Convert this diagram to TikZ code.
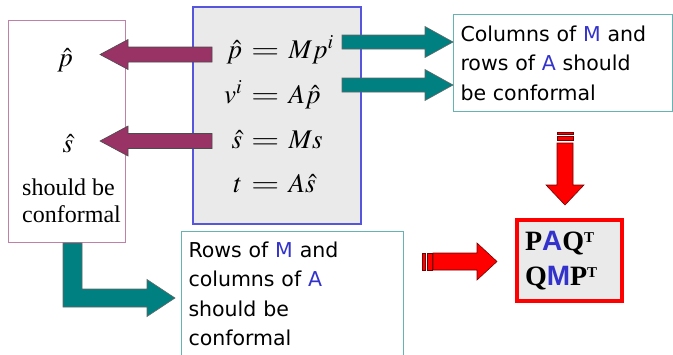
\documentclass[tikz,border=0pt]{standalone}
\usepackage{mathptmx}
\usepackage[no-math]{fontspec}
\setmainfont{Liberation Serif}
\setsansfont{DejaVu Sans}
\newfontfamily\arialfont{Liberation Sans}
\newfontfamily\timesfont{Liberation Serif}
\usetikzlibrary{calc}

\definecolor{plum}{HTML}{993366}
\definecolor{tealfill}{HTML}{008080}
\definecolor{tealline}{HTML}{66B3B3}
\definecolor{mblue}{HTML}{3333CC}
\definecolor{boxblue}{HTML}{5555DD}
\definecolor{pinkline}{HTML}{C080A8}
\definecolor{paper}{HTML}{EAEAEA}

% block arrow: style, from, to, half shaft, half head, head length
\newcommand{\blockarrow}[6]{%
  \draw[#1] ($(#2)!#4!90:(#3)$) -- ($(#3)!#6!(#2)!#4!-90:(#2)$)
    -- ($(#3)!#6!(#2)!#5!-90:(#2)$) -- (#3)
    -- ($(#3)!#6!(#2)!#5!90:(#2)$) -- ($(#3)!#6!(#2)!#4!90:(#2)$)
    -- ($(#2)!#4!-90:(#3)$) -- cycle;}
\newcommand{\eqline}[2]{\makebox[26pt][r]{$#1$}\hspace{9pt}\scalebox{1.35}[1]{$=$}\hspace{9pt}\makebox[50pt][l]{$#2$}}
\newcommand{\supT}{\raisebox{8pt}{\fontsize{15}{15}\selectfont T}}
\newcommand{\bl}[1]{{\color{mblue}\arialfont\bfseries #1}}

\tikzset{
  note/.style={draw=tealline, line width=1pt, font=\sffamily\fontsize{20.5}{29.5}\selectfont,
    align=left, anchor=north west, inner xsep=7pt},
  eq/.style={font=\fontsize{27}{30}\selectfont, inner sep=0pt, anchor=base west},
  parrow/.style={fill=plum, draw=black!70, line width=0.6pt},
  tarrow/.style={fill=tealfill, draw=black!60, line width=0.6pt},
  rarrow/.style={fill=red, draw=red!45!black, line width=0.6pt}
}

\begin{document}
\begin{tikzpicture}[x=1pt, y=-1pt]
  \useasboundingbox (0,0) rectangle (673,354);
  \clip (0,0) rectangle (673,354);

  % frames
  \draw[pinkline, line width=1pt] (8,20) rectangle (125,242);
  \draw[boxblue, fill=paper, line width=1.2pt] (193,7) rectangle (361,224);

  % left column
  \node[font=\fontsize{27}{30}\selectfont, inner sep=0pt, anchor=base] (lp) at (65,66) {$\hat p$};
  \node[font=\fontsize{27}{30}\selectfont, inner sep=0pt, anchor=base] (ls) at (68,152) {$\hat s$};
  \node[font=\timesfont\fontsize{24}{27}\selectfont, align=left, inner sep=0pt, anchor=north west] (lnote)
    at (22,178.5) {should be\\conformal};

  % equations
  \node[eq] (eqp) at (216,58) {\eqline{\hat p}{Mp^i}};
  \node[eq] (eqv) at (216,103) {\eqline{v^i}{A\hat p}};
  \node[eq] (eqs) at (216,148) {\eqline{\hat s}{Ms}};
  \node[eq] (eqt) at (216,192) {\eqline{t}{A\hat s}};

  % notes
  \node[note, text width=205pt, minimum height=97pt] (topbox) at (453,14)
    {Columns of {\color{mblue}M} and\\rows of {\color{mblue}A} should\\be conformal};
  \node[note, text width=208pt, inner ysep=10.4pt] (lowbox) at (181,231)
    {Rows of {\color{mblue}M} and\\columns of {\color{mblue}A}\\should be\\conformal};
  \node[draw=red, fill=paper, line width=4pt, font=\timesfont\fontsize{28}{35}\selectfont\bfseries,
    align=left, anchor=north west, inner xsep=8pt, text width=89pt, minimum height=81pt] (resbox)
    at (515,218) {P\bl{A}Q\supT\\Q\bl{M}P\supT};

  % arrows
  \coordinate (p1s) at (212,54.5);  \coordinate (p1e) at (100,54.5);
  \coordinate (p2s) at (212,141);   \coordinate (p2e) at (100,141);
  \blockarrow{parrow}{p1s}{p1e}{7.5pt}{15pt}{28pt}
  \blockarrow{parrow}{p2s}{p2e}{7.5pt}{15pt}{28pt}

  \coordinate (t1s) at (342,42);  \coordinate (t1e) at (topbox.west |- t1s);
  \coordinate (t2s) at (342,85);  \coordinate (t2e) at (topbox.west |- t2s);
  \blockarrow{tarrow}{t1s}{t1e}{7pt}{15.5pt}{28pt}
  \blockarrow{tarrow}{t2s}{t2e}{7pt}{15.5pt}{28pt}

  \draw[tarrow] (63,243) -- (63,307) -- (147,307) -- (147,316.5) -- (175,298)
    -- (147,279.5) -- (147,289) -- (82,289) -- (82,243) -- cycle;

  \coordinate (r1s) at (565,143);  \coordinate (r1e) at (565,205);
  \draw[rarrow] (557,132) rectangle (573,134.5);
  \draw[rarrow] (557,136.5) rectangle (573,140.5);
  \blockarrow{rarrow}{r1s}{r1e}{8pt}{19pt}{20pt}

  \coordinate (r2s) at (433,261.5);  \coordinate (r2e) at (497,261.5);
  \draw[rarrow] (422,253) rectangle (425,270);
  \draw[rarrow] (427,253) rectangle (432,270);
  \blockarrow{rarrow}{r2s}{r2e}{8.5pt}{18.5pt}{20pt}
\end{tikzpicture}
\end{document}
